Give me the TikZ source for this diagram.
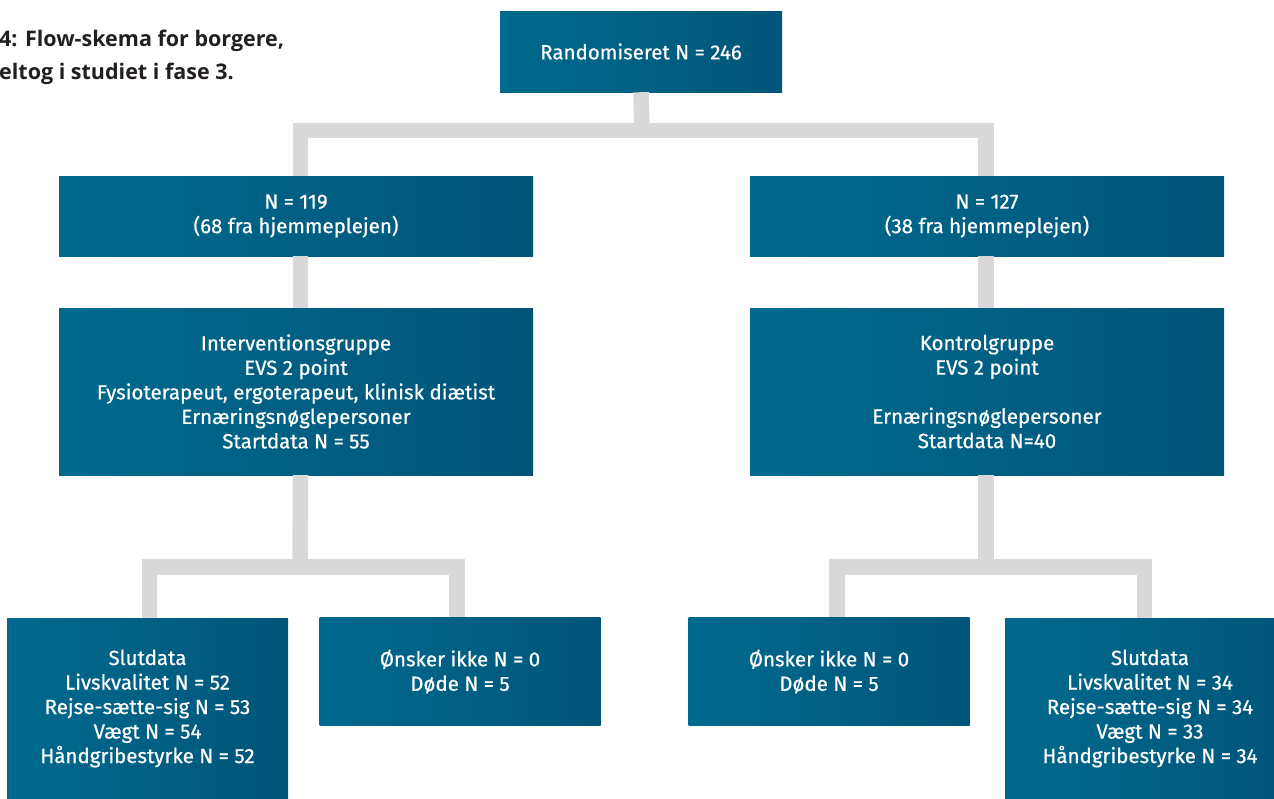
\documentclass[tikz,border=0pt]{standalone}
\usepackage{fontspec}
\setmainfont{Fira Sans}
\newfontfamily\boxfont{Fira Sans}[FakeBold=0.6]
\newfontfamily\titlefont{Open Sans}
\usepackage{tikz}
\usetikzlibrary{positioning, calc}
\definecolor{boxL}{RGB}{0,106,142}
\definecolor{boxR}{RGB}{0,85,121}
\definecolor{linkgray}{RGB}{217,217,217}
\definecolor{titlegray}{RGB}{35,31,32}

\begin{document}
\begin{tikzpicture}[
    x=1pt, y=-1pt,
    box/.style={
        left color=boxL,
        right color=boxR,
        draw=none,
        text=white,
        align=center,
        inner sep=0pt,
        font=\boxfont\fontsize{20.5}{24.5}\selectfont
    },
    wide/.style={box, minimum width=474, minimum height=80},
    tall/.style={box, minimum width=474, minimum height=167},
    small/.style={box, minimum width=281, minimum height=108},
    result/.style={box, minimum width=281, minimum height=181},
    link/.style={draw=linkgray, line width=15.5pt},
    caption/.style={font=\titlefont\bfseries\fontsize{21.5}{33}\selectfont, text=titlegray, align=left, inner sep=0pt}
]
    \useasboundingbox (0,0) rectangle (1274,798);

    % CAPTION
    \node[caption, anchor=north west] (title) at (-1,30) {4: Flow-skema for borgere,\\eltog i studiet i fase 3.};

    % TOP
    \node[box, minimum width=282, minimum height=81] (rand) at (641,51.5) {Randomiseret N = 246};

    % ARMS
    \node[wide] (n119) at (296,216) {N = 119\\(68 fra hjemmeplejen)};
    \node[wide] (n127) at (987,216) {N = 127\\(38 fra hjemmeplejen)};

    \node[tall] (interv) at (296,391.5) {Interventionsgruppe\\EVS 2 point\\Fysioterapeut, ergoterapeut, klinisk di\ae tist\\Ern\ae ringsn\o glepersoner\\Startdata N = 55};
    \node[tall] (kontrol) at (987,391.5) {Kontrolgruppe\\EVS 2 point\\\mbox{}\\Ern\ae ringsn\o glepersoner\\Startdata N=40};

    % OUTCOMES
    \node[result] (slutI) at (147.5,708.5) {Slutdata\\Livskvalitet N = 52\\Rejse-s\ae tte-sig N = 53\\V\ae gt N = 54\\H\aa ndgribestyrke N = 52};
    \node[small] (drop1) at (460,671.5) {\O nsker ikke N = 0\\D\o de N = 5};
    \node[small] (drop2) at (829,671.5) {\O nsker ikke N = 0\\D\o de N = 5};
    \node[result, minimum width=290] (slutK) at (1150,708.5) {Slutdata\\Livskvalitet N = 34\\Rejse-s\ae tte-sig N = 34\\V\ae gt N = 33\\H\aa ndgribestyrke N = 34};

    % CONNECTORS
    \coordinate (split0) at (642,130.5);
    \coordinate (split1) at (300,567);
    \coordinate (split2) at (986,567);

    \draw[link] (rand.south) -- (split0);
    \draw[link] ([xshift=4.5pt]n119.north) |- (split0) -| ([xshift=-1pt]n127.north);
    \draw[link] ([xshift=4.5pt]n119.south) -- ([xshift=4.5pt]interv.north);
    \draw[link] ([xshift=-1pt]n127.south) -- ([xshift=-1pt]kontrol.north);

    \draw[link] ([xshift=4.5pt]interv.south) -- (split1);
    \draw[link] ([xshift=2pt]slutI.north) |- (split1) -| ([xshift=-3pt]drop1.north);
    \draw[link] ([xshift=-1pt]kontrol.south) -- (split2);
    \draw[link] ([xshift=8pt]drop2.north) |- (split2) -| ([xshift=-5.5pt]slutK.north);

\end{tikzpicture}
\end{document}
